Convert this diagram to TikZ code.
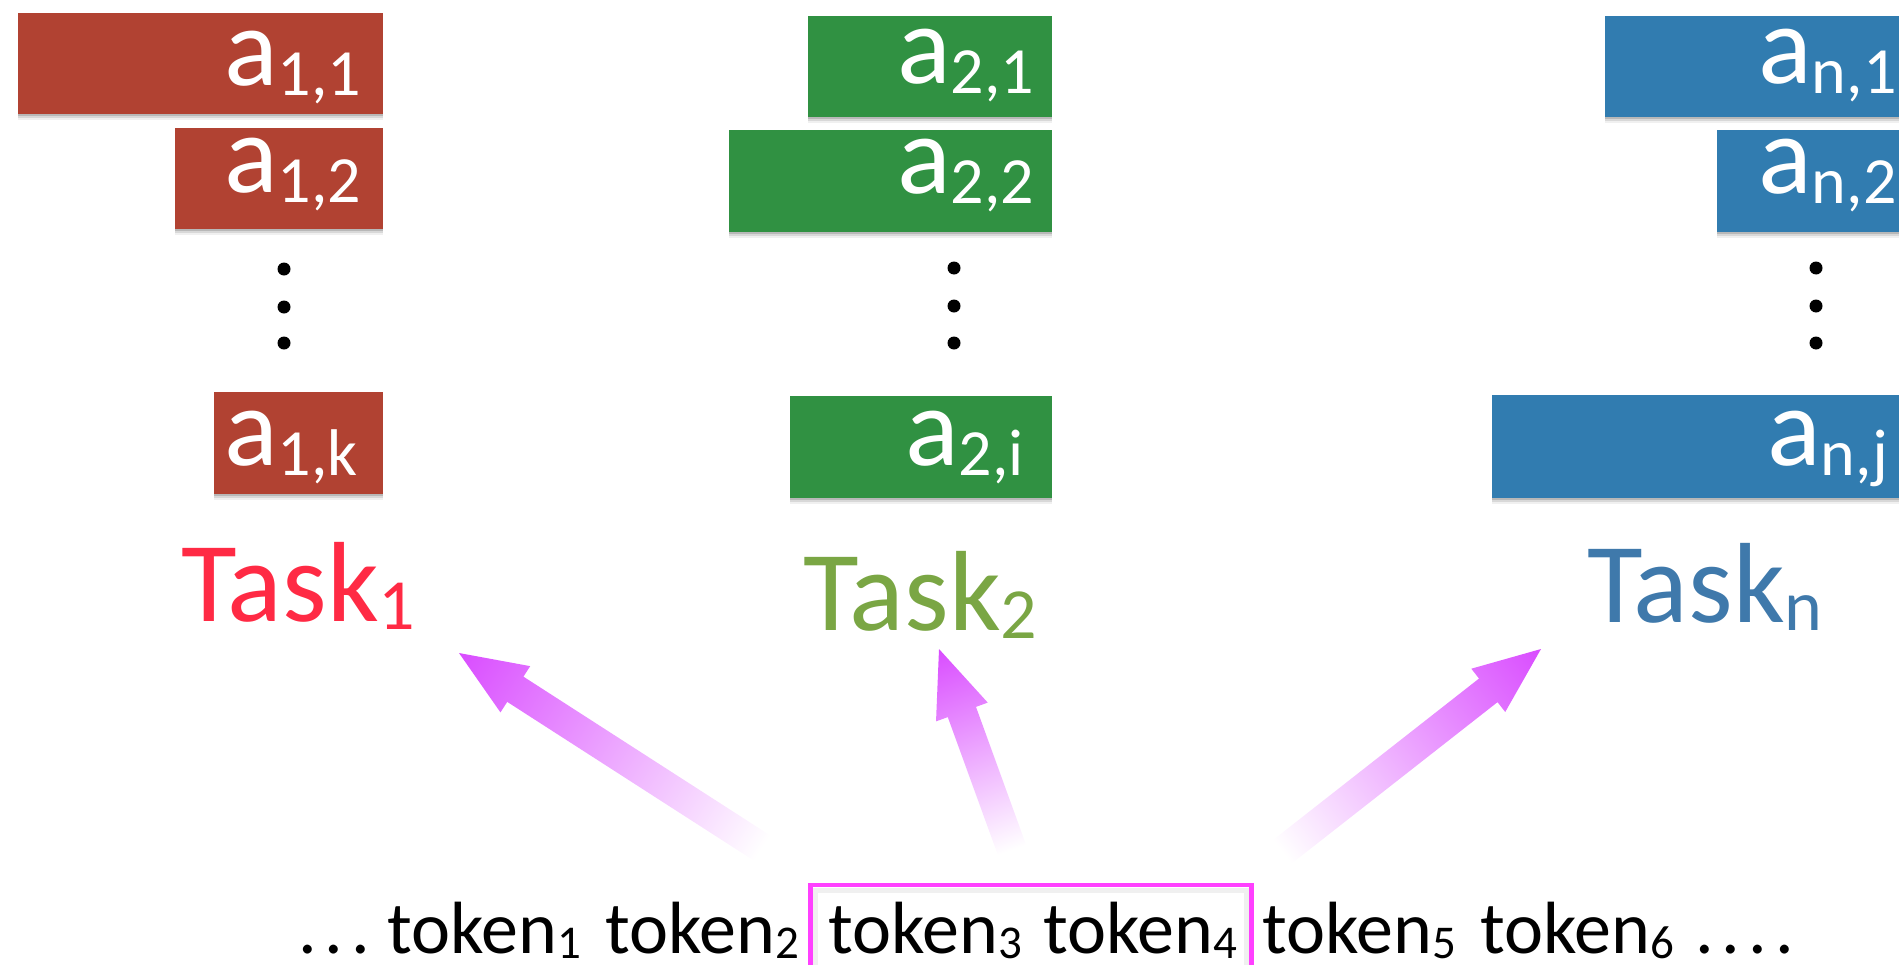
\documentclass[tikz,border=0pt]{standalone}
\usepackage{fontspec}
\setmainfont{Carlito}
\usetikzlibrary{shadows}

\definecolor{boxred}{RGB}{177,66,50}
\definecolor{boxgreen}{RGB}{48,145,66}
\definecolor{boxblue}{RGB}{49,124,176}
\definecolor{taskred}{RGB}{255,42,68}
\definecolor{taskgreen}{RGB}{122,166,68}
\definecolor{taskblue}{RGB}{63,121,171}
\definecolor{arrowmag}{RGB}{217,76,255}
\definecolor{framemag}{RGB}{255,64,255}

% subscripted element label a_{..}
\newcommand\elem[1]{a\raisebox{-10pt}{\fontsize{66}{66}\selectfont #1}}
% task label with subscript
\newcommand\taskname[1]{Task\raisebox{-8pt}{\fontsize{72}{72}\selectfont #1}}
% token with subscript
\newcommand\tok[1]{token\raisebox{-5pt}{\fontsize{47}{47}\selectfont #1}}
% widely spaced dots
\newcommand\spdots[1]{\foreach \k in {1,...,#1}{\ifnum\k>1\hspace{8pt}\fi.}}

% coloured element box: name, colour, left, top, right, bottom (pixel units, y downwards)
\newcommand\elbox[6]{\node[elbox, fill=#2, minimum width={#5-#3}, minimum height={#6-#4}] (#1) at (#3,-#4) {};}

% fading arrow: name, tail x, tail y, tip x, tip y (pixel units, y downwards)
\newcommand\fadearrow[5]{%
  \coordinate (#1-tail) at (#2,-#3);
  \coordinate (#1-tip) at (#4,-#5);
  \pgfmathsetmacro\arrang{atan2(#3-#5,#4-#2)}%
  \pgfmathsetmacro\arrlen{veclen(#4-#2,#5-#3)}%
  \begin{scope}[transform canvas={shift={(#1-tail)}, rotate=\arrang}]
    \shade[left color=white, right color=arrowmag]
      (0,-15) -- ({\arrlen-67},-15) -- ({\arrlen-67},-27.5) -- (\arrlen,0)
      -- ({\arrlen-67},27.5) -- ({\arrlen-67},15) -- (0,15) -- cycle;
  \end{scope}}

\tikzset{
  elbox/.style={inner sep=0pt, outer sep=0pt, anchor=north west,
    drop shadow={shadow xshift=0pt, shadow yshift=-6pt, opacity=0.06, fill=black},
    drop shadow={shadow xshift=0pt, shadow yshift=-4pt, opacity=0.10, fill=black},
    drop shadow={shadow xshift=0pt, shadow yshift=-2pt, opacity=0.15, fill=black}},
  eltext/.style={anchor=base west, inner sep=0pt, text=white, font=\fontsize{112}{112}\selectfont},
  vdot/.style={circle, fill=black, inner sep=0pt, minimum size=13pt},
  tasklabel/.style={anchor=base west, inner sep=0pt, font=\fontsize{114}{114}\selectfont},
  tokentext/.style={anchor=base west, inner sep=0pt, font=\fontsize{74}{74}\selectfont},
  selframe/.style={draw=framemag, line width=4.5pt, inner sep=0pt, outer sep=0pt, anchor=north west},
}

\begin{document}
\begin{tikzpicture}[x=1pt,y=1pt]
\useasboundingbox (0,0) rectangle (1903,-964);

% ---- task 1 column ----
\elbox{b11}{boxred}{18}{13}{383}{114}
\elbox{b12}{boxred}{175}{128}{383}{229}
\elbox{b1k}{boxred}{214}{392}{383}{494}
\node[eltext] (e11) at (224,-85) {\elem{1,1}};
\node[eltext] (e12) at (224,-192) {\elem{1,2}};
\node[eltext] (e1k) at (224,-465) {\elem{1,k}};
\node[vdot] (d11) at (284,-269) {};
\node[vdot] (d12) at (284,-307) {};
\node[vdot] (d13) at (284,-343) {};

% ---- task 2 column ----
\elbox{b21}{boxgreen}{808}{16}{1052}{117}
\elbox{b22}{boxgreen}{729}{130}{1052}{232}
\elbox{b2i}{boxgreen}{790}{396}{1052}{498}
\node[eltext] (e21) at (897,-83) {\elem{2,1}};
\node[eltext] (e22) at (897,-193) {\elem{2,2}};
\node[eltext] (e2i) at (905,-465) {\elem{2,i}};
\node[vdot] (d21) at (954,-268) {};
\node[vdot] (d22) at (954,-306) {};
\node[vdot] (d23) at (954,-343) {};

% ---- task n column ----
\elbox{bn1}{boxblue}{1605}{16}{1899}{117}
\elbox{bn2}{boxblue}{1717}{130}{1899}{232}
\elbox{bnj}{boxblue}{1492}{395}{1899}{498}
\node[eltext] (en1) at (1758,-83) {\elem{n,1}};
\node[eltext] (en2) at (1758,-193) {\elem{n,2}};
\node[eltext] (enj) at (1767,-465) {\elem{n,j}};
\node[vdot] (dn1) at (1816,-268) {};
\node[vdot] (dn2) at (1816,-306) {};
\node[vdot] (dn3) at (1816,-343) {};

% ---- task labels ----
\node[tasklabel, text=taskred] (task1) at (181,-621) {\taskname{1}};
\node[tasklabel, text=taskgreen] (task2) at (803,-630) {\taskname{2}};
\node[tasklabel, text=taskblue] (taskn) at (1587,-622) {\taskname{n}};

% ---- arrows from the selected tokens to the tasks ----
\fadearrow{arr1}{762}{848}{459}{653}
\fadearrow{arr2}{1012}{850}{939}{649}
\fadearrow{arrn}{1282}{852}{1541}{649}

% ---- token sequence ----
\node[draw=black, draw opacity=0.06, line width=5pt, inner sep=0pt, outer sep=0pt,
      anchor=north west, minimum width=431, minimum height=100] (selshade) at (815.5,-890) {};
\node[selframe, minimum width=441, minimum height=110] (sel) at (810.5,-885) {};
\node[tokentext] (dotsl) at (298,-953) {\spdots{3}};
\node[tokentext] (tok1) at (387,-953) {\tok{1}};
\node[tokentext] (tok2) at (605,-953) {\tok{2}};
\node[tokentext] (tok3) at (828,-953) {\tok{3}};
\node[tokentext] (tok4) at (1043,-953) {\tok{4}};
\node[tokentext] (tok5) at (1262,-953) {\tok{5}};
\node[tokentext] (tok6) at (1480,-953) {\tok{6}};
\node[tokentext] (dotsr) at (1695,-953) {\spdots{4}};
\end{tikzpicture}
\end{document}
